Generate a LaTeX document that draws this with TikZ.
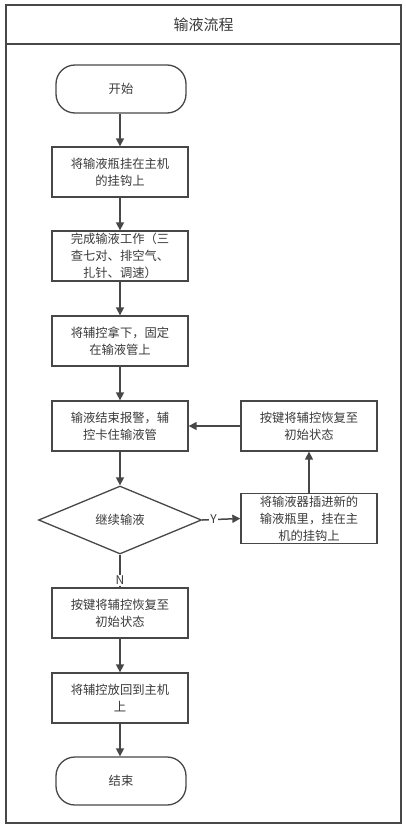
\documentclass[tikz,border=0pt]{standalone}
\usepackage{fontspec}
\setmainfont{Noto Sans CJK SC}
\usetikzlibrary{shapes.geometric,arrows.meta}
\definecolor{ln}{HTML}{474747}
\definecolor{tx}{HTML}{3A3A3A}
\begin{document}
\begin{tikzpicture}[x=1pt,y=-1pt,
  every node/.style={text=tx, font=\fontsize{12.3}{17}\selectfont},
  stepbox/.style={draw=ln, line width=1.3pt, rectangle, minimum width=136pt, minimum height=50pt, align=center, inner sep=2pt},
  termbox/.style={draw=ln, line width=1.3pt, rectangle, rounded corners=19pt, minimum width=130pt, minimum height=48pt, align=center},
  decbox/.style={draw=ln, line width=1.3pt, diamond, minimum width=163pt, minimum height=68pt, inner sep=0pt, aspect=2.4},
  arr/.style={draw=ln, line width=1.5pt, -{Triangle[width=8pt,length=8pt]}},
  lbl/.style={fill=white, inner sep=1pt, font=\fontsize{12}{14}\selectfont}
]
\useasboundingbox (0,0) rectangle (405,827);
\draw[ln, line width=1.3pt] (6,5) rectangle (401,823);
\draw[ln, line width=1.3pt] (6,44) -- (401,44);
\node[font=\fontsize{15}{18}\selectfont] (title) at (203.5,25) {输液流程};

\node[termbox] (start) at (121,89) {开始};
\node[stepbox] (b1) at (120,172) {将输液瓶挂在主机\\的挂钩上};
\node[stepbox] (b2) at (120,256) {完成输液工作（三\\查七对、排空气、\\扎针、调速）};
\node[stepbox] (b3) at (120,341) {将辅控拿下，固定\\在输液管上};
\node[stepbox] (b4) at (120,426) {输液结束报警，辅\\控卡住输液管};
\node[decbox] (d) at (120,520) {继续输液};
\node[stepbox] (r1) at (309,426) {按键将辅控恢复至\\初始状态};
\node[stepbox] (r2) at (309,518.5) {将输液器插进新的\\输液瓶里，挂在主\\机的挂钩上};
\node[stepbox] (b5) at (120,613) {按键将辅控恢复至\\初始状态};
\node[stepbox] (b6) at (120,698) {将辅控放回到主机\\上};
\node[termbox] (end) at (121,781) {结束};

\draw[arr] (start.south -| b1.north) -- (b1.north);
\draw[arr] (b1) -- (b2);
\draw[arr] (b2) -- (b3);
\draw[arr] (b3) -- (b4);
\draw[arr] (b4) -- (d);
\draw[arr] (d.east) -- node[lbl, pos=0.3] (ylab) {Y} (r2.west);
\draw[arr] (r2) -- (r1);
\draw[arr] (r1) -- (b4);
\draw[draw=ln, line width=1.5pt] (d.south) -- node[lbl, pos=0.78] (nlab) {N} (b5.north);
\draw[arr] (b5) -- (b6);
\draw[arr] (b6.south) -- (b6.south |- end.north);
\end{tikzpicture}
\end{document}
